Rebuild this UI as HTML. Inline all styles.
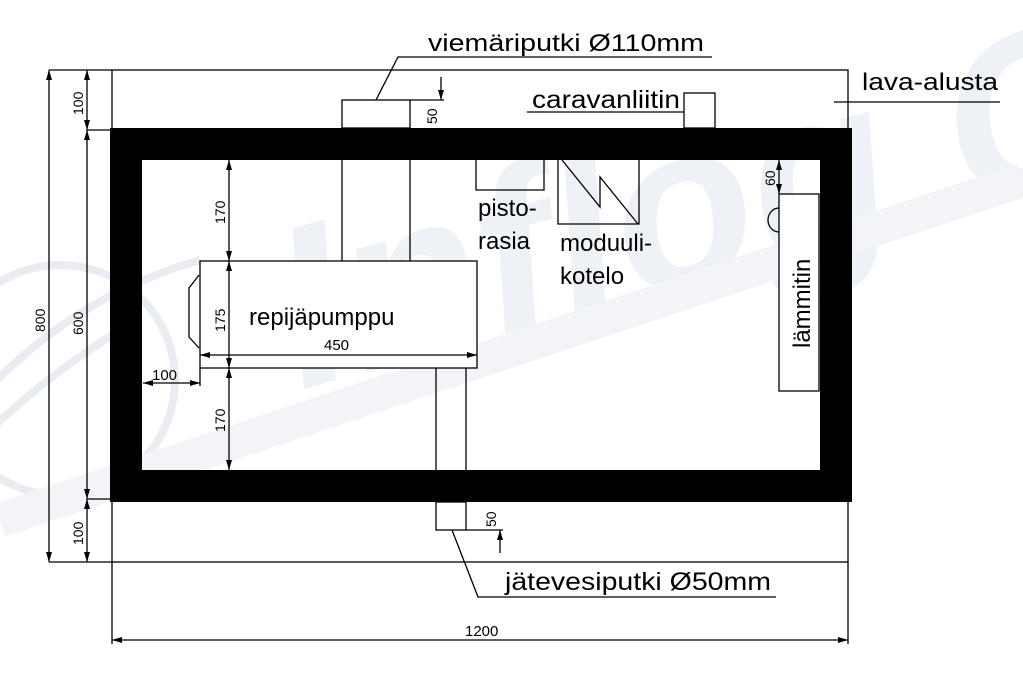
<!DOCTYPE html>
<html><head><meta charset="utf-8"><style>
html,body{margin:0;padding:0;background:#fff;width:1023px;height:688px;overflow:hidden}
svg{display:block}
text{font-family:"Liberation Sans",sans-serif;fill:#000}
</style></head><body>
<svg width="1023" height="688" viewBox="0 0 1023 688" xmlns="http://www.w3.org/2000/svg">
<defs>
<marker id="a" viewBox="0 0 10 6" refX="10" refY="3" markerWidth="10" markerHeight="6" orient="auto-start-reverse" markerUnits="userSpaceOnUse"><path d="M0,0 L10,3 L0,6 z" fill="#000"/></marker>
</defs>
<text x="300" y="390" font-size="230" font-weight="bold" font-style="italic" transform="rotate(-15 300 390)" style="fill:#eef1f5">Inflog Oy</text>
<g fill="none" stroke="#e9ecf1" stroke-width="8">
<circle cx="60" cy="380" r="115"/>
<path d="M-40,420 Q60,300 200,260"/>
<path d="M-20,440 Q40,380 120,330"/>
</g>
<path d="M0,520 L1023,180" stroke-width="34" stroke="#f2f4f7" fill="none"/>
<g stroke="#000" stroke-width="1.3" fill="none">
<rect x="112" y="70" width="736" height="492"/>
<rect x="126" y="144" width="710" height="342" stroke-width="32"/>
<rect x="342" y="100" width="68" height="28" fill="#fff"/>
<line x1="342" y1="160" x2="342" y2="261"/>
<line x1="410" y1="160" x2="410" y2="261"/>
<line x1="410" y1="100" x2="444" y2="100"/>
<line x1="441" y1="77" x2="441" y2="100" marker-end="url(#a)"/>
<polyline points="376,100 398,57 712,57"/>
<rect x="684" y="93" width="31" height="35" fill="#fff"/>
<line x1="527" y1="112" x2="684" y2="112"/>
<line x1="834" y1="102" x2="1000" y2="102"/>
<polyline points="476,160 476,190 544,190 544,160"/>
<polyline points="558,160 558,224 639,224 639,160"/>
<polyline points="562,160 600,207 600,177 638,224"/>
<rect x="779" y="194" width="40" height="197" fill="#fff"/>
<path d="M779,208 A11,12 0 0 0 779,232"/>
<line x1="779" y1="160" x2="779" y2="194" marker-start="url(#a)" marker-end="url(#a)"/>
<rect x="200" y="261" width="277" height="107" fill="#fff"/>
<polyline points="199,275 189,288 189,337 199,348"/>
<line x1="200" y1="355" x2="477" y2="355" marker-start="url(#a)" marker-end="url(#a)"/>
<line x1="229" y1="160" x2="229" y2="261" marker-start="url(#a)" marker-end="url(#a)"/>
<line x1="229" y1="261" x2="229" y2="368" marker-start="url(#a)" marker-end="url(#a)"/>
<line x1="229" y1="368" x2="229" y2="470" marker-start="url(#a)" marker-end="url(#a)"/>
<line x1="200" y1="368" x2="200" y2="386"/>
<line x1="143" y1="383" x2="200" y2="383" marker-start="url(#a)" marker-end="url(#a)"/>
<line x1="436" y1="368" x2="436" y2="470"/>
<line x1="466" y1="368" x2="466" y2="470"/>
<rect x="436" y="502" width="30" height="28" fill="#fff"/>
<line x1="466" y1="530" x2="503" y2="530"/>
<line x1="500" y1="553" x2="500" y2="530" marker-end="url(#a)"/>
<polyline points="452,530 478,597 776,597"/>
<line x1="49" y1="562" x2="49" y2="70" marker-start="url(#a)" marker-end="url(#a)"/>
<line x1="49" y1="70" x2="112" y2="70"/>
<line x1="49" y1="562" x2="112" y2="562"/>
<line x1="87" y1="70" x2="87" y2="130" marker-start="url(#a)" marker-end="url(#a)"/>
<line x1="87" y1="130" x2="87" y2="499" marker-start="url(#a)" marker-end="url(#a)"/>
<line x1="87" y1="499" x2="87" y2="562" marker-start="url(#a)" marker-end="url(#a)"/>
<line x1="87" y1="130" x2="110" y2="130"/>
<line x1="87" y1="499" x2="110" y2="499"/>
<line x1="112" y1="562" x2="112" y2="644"/>
<line x1="848" y1="562" x2="848" y2="644"/>
<line x1="112" y1="640" x2="848" y2="640" marker-start="url(#a)" marker-end="url(#a)"/>
</g>
<text x="428" y="51" font-size="24" textLength="276" lengthAdjust="spacingAndGlyphs">viemäriputki Ø110mm</text>
<text x="532" y="108" font-size="25" textLength="148" lengthAdjust="spacingAndGlyphs">caravanliitin</text>
<text x="862" y="90" font-size="24" textLength="136" lengthAdjust="spacingAndGlyphs">lava-alusta</text>
<text x="478" y="216" font-size="24">pisto-</text>
<text x="478" y="249" font-size="24">rasia</text>
<text x="560" y="251" font-size="24">moduuli-</text>
<text x="560" y="284" font-size="24">kotelo</text>
<text transform="translate(810,348) rotate(-90)" font-size="24">lämmitin</text>
<text x="249" y="325" font-size="24">repijäpumppu</text>
<text x="324" y="350" font-size="15">450</text>
<text x="152" y="380" font-size="15">100</text>
<text x="505" y="590" font-size="25" textLength="266" lengthAdjust="spacingAndGlyphs">jätevesiputki Ø50mm</text>
<text x="465" y="636" font-size="15">1200</text>
<g font-size="14">
<text transform="translate(83,115) rotate(-90)">100</text>
<text transform="translate(45,332) rotate(-90)">800</text>
<text transform="translate(83,335) rotate(-90)">600</text>
<text transform="translate(83,545) rotate(-90)">100</text>
<text transform="translate(225,224) rotate(-90)">170</text>
<text transform="translate(225,332) rotate(-90)">175</text>
<text transform="translate(225,432) rotate(-90)">170</text>
<text transform="translate(437,124) rotate(-90)">50</text>
<text transform="translate(496,527) rotate(-90)">50</text>
<text transform="translate(775,186) rotate(-90)">60</text>
</g>
</svg>
</body></html>
